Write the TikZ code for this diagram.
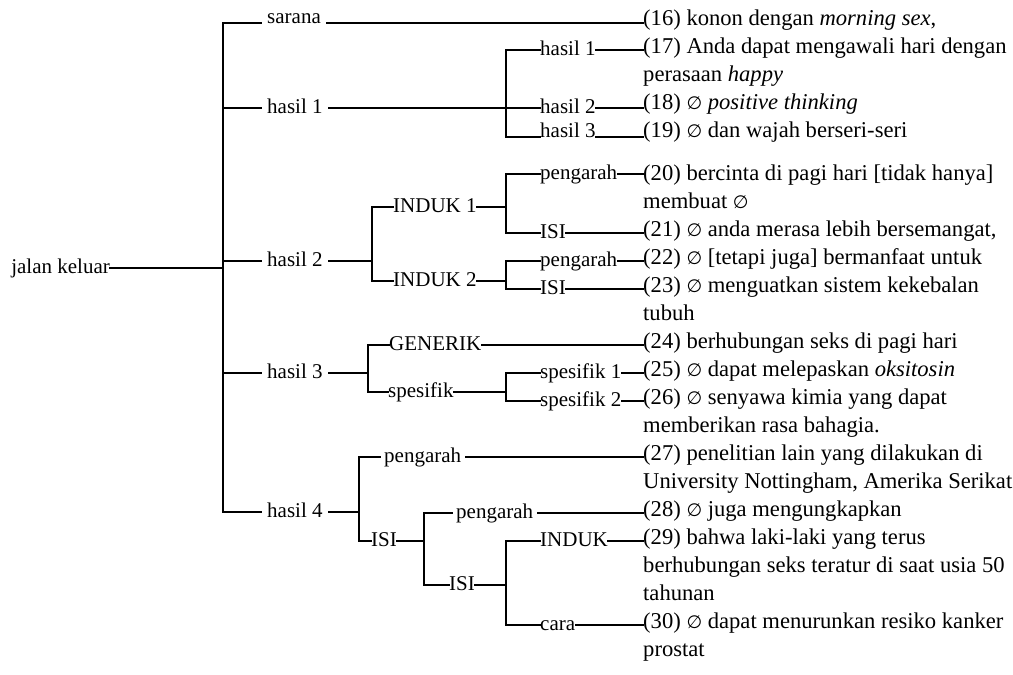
\documentclass[tikz,border=0pt]{standalone}
\usepackage{fontspec}
\setmainfont{Liberation Serif}
\newfontfamily\symf{DejaVu Sans}
\newcommand{\nul}{{\symf\fontsize{18}{20}\selectfont ∅}}
\newcommand{\vl}[1]{\vtop{#1}}
\begin{document}
\begin{tikzpicture}[x=1pt,y=-1pt,
  every node/.style={inner sep=0pt},
  lbl/.style={anchor=base west, font=\fontsize{21}{25}\selectfont, text height=10pt, text depth=0pt},
  lone/.style={lbl, inner xsep=6pt},
  rt/.style={anchor=base west, font=\fontsize{22.6}{28}\selectfont},
  ln/.style={line width=1.6pt, line cap=rect}]
\useasboundingbox (0,0) rectangle (1013,675);

% right column
\node[rt] (r16) at (643,25) {(16) konon dengan \textit{morning sex},};
\node[rt] (r17) at (643,53) {\vl{\hbox{(17) Anda dapat mengawali hari dengan}\hbox{perasaan \textit{happy}}}};
\node[rt] (r18) at (643,109) {(18) \nul\ \textit{positive thinking}};
\node[rt] (r19) at (643,137) {(19) \nul\ dan wajah berseri-seri};
\node[rt] (r20) at (643,180) {\vl{\hbox{(20) bercinta di pagi hari [tidak hanya]}\hbox{membuat \nul}}};
\node[rt] (r21) at (643,236) {(21) \nul\ anda merasa lebih bersemangat,};
\node[rt] (r22) at (643,264) {(22) \nul\ [tetapi juga] bermanfaat untuk};
\node[rt] (r23) at (643,292) {\vl{\hbox{(23) \nul\ menguatkan sistem kekebalan}\hbox{tubuh}}};
\node[rt] (r24) at (643,348) {(24) berhubungan seks di pagi hari};
\node[rt] (r25) at (643,376) {(25) \nul\ dapat melepaskan \textit{oksitosin}};
\node[rt] (r26) at (643,404) {\vl{\hbox{(26) \nul\ senyawa kimia yang dapat}\hbox{memberikan rasa bahagia.}}};
\node[rt] (r27) at (643,460) {\vl{\hbox{(27) penelitian lain yang dilakukan di}\hbox{University Nottingham, Amerika Serikat}}};
\node[rt] (r28) at (643,516) {(28) \nul\ juga mengungkapkan};
\node[rt] (r29) at (643,544) {\vl{\hbox{(29) bahwa laki-laki yang terus}\hbox{berhubungan seks teratur di saat usia 50}\hbox{tahunan}}};
\node[rt] (r30) at (643,628) {\vl{\hbox{(30) \nul\ dapat menurunkan resiko kanker}\hbox{prostat}}};

% root and level 1
\node[lbl, anchor=base east] (root) at (110,273) {jalan keluar};
\coordinate (t) at (223,268);
\node[lone] (sar) at (261,23) {sarana};
\node[lone] (h1) at (261,113) {hasil 1};
\node[lone] (h2) at (261,266) {hasil 2};
\node[lone] (h3) at (261,378) {hasil 3};
\node[lone] (h4) at (261,517) {hasil 4};
\draw[ln] (root.east) -- (t);
\draw[ln] (sar.base west) -| (t) |- (h4.west);
\draw[ln] (t |- h1.west) -- (h1.west);
\draw[ln] (t |- h2.west) -- (h2.west);
\draw[ln] (t |- h3.west) -- (h3.west);
\draw[ln] (sar.base east) -- (sar.base east -| r16.base west);

% hasil 1
\node[lbl] (s1) at (540,55) {hasil 1};
\node[lbl] (s2) at (540,113) {hasil 2};
\node[lbl] (s3) at (540,137) {hasil 3};
\coordinate (b1) at (506,108);
\draw[ln] (h1.east) -- (b1);
\draw[ln] (s1.west) -| (b1) |- (s3.base west);
\draw[ln] (b1) -- (s2.west);
\draw[ln] (s1.east) -- (s1.east -| r17.base west);
\draw[ln] (s2.east) -- (s2.east -| r18.base west);
\draw[ln] (s3.base east) -- (r19.base west);

% hasil 2
\node[lbl] (i1) at (393,212) {INDUK 1};
\node[lbl] (i2) at (393,286) {INDUK 2};
\coordinate (b2) at (372,261);
\draw[ln] (h2.east) -- (b2);
\draw[ln] (i1.west) -| (b2) |- (i2.west);
\node[lbl] (p1) at (540,179) {pengarah};
\node[lbl] (q1) at (540,238) {ISI};
\coordinate (b3) at (506,207);
\draw[ln] (i1.east) -- (b3);
\draw[ln] (p1.west) -| (b3) |- (q1.west);
\draw[ln] (p1.east) -- (p1.east -| r20.base west);
\draw[ln] (q1.east) -- (q1.east -| r21.base west);
\node[lbl] (p2) at (540,266) {pengarah};
\node[lbl] (q2) at (540,294) {ISI};
\coordinate (b4) at (506,281);
\draw[ln] (i2.east) -- (b4);
\draw[ln] (p2.west) -| (b4) |- (q2.west);
\draw[ln] (p2.east) -- (p2.east -| r22.base west);
\draw[ln] (q2.east) -- (q2.east -| r23.base west);

% hasil 3
\node[lbl] (gen) at (389,350) {GENERIK};
\node[lbl] (spf) at (388,397) {spesifik};
\coordinate (b5) at (368,373);
\draw[ln] (h3.east) -- (b5);
\draw[ln] (gen.west) -| (b5) |- (spf.west);
\draw[ln] (gen.east) -- (gen.east -| r24.base west);
\node[lbl] (sp1) at (540,378) {spesifik 1};
\node[lbl] (sp2) at (540,406) {spesifik 2};
\coordinate (b6) at (506,392);
\draw[ln] (spf.east) -- (b6);
\draw[ln] (sp1.west) -| (b6) |- (sp2.west);
\draw[ln] (sp1.east) -- (sp1.east -| r25.base west);
\draw[ln] (sp2.east) -- (sp2.east -| r26.base west);

% hasil 4
\node[lbl, inner xsep=4pt] (p4) at (380,462) {pengarah};
\node[lbl] (isi4) at (371,546) {ISI};
\coordinate (b7) at (359,512);
\draw[ln] (h4.east) -- (b7);
\draw[ln] (p4.west) -| (b7) |- (isi4.west);
\draw[ln] (p4.east) -- (p4.east -| r27.base west);
\node[lbl, inner xsep=4pt] (p5) at (452,518) {pengarah};
\node[lbl] (isi5) at (449,590) {ISI};
\coordinate (b8) at (424,541);
\draw[ln] (isi4.east) -- (b8);
\draw[ln] (p5.west) -| (b8) |- (isi5.west);
\draw[ln] (p5.east) -- (p5.east -| r28.base west);
\node[lbl] (ind) at (540,546) {INDUK};
\node[lbl] (cara) at (540,630) {cara};
\coordinate (b9) at (506,585);
\draw[ln] (isi5.east) -- (b9);
\draw[ln] (ind.west) -| (b9) |- (cara.west);
\draw[ln] (ind.east) -- (ind.east -| r29.base west);
\draw[ln] (cara.east) -- (cara.east -| r30.base west);
\end{tikzpicture}
\end{document}
